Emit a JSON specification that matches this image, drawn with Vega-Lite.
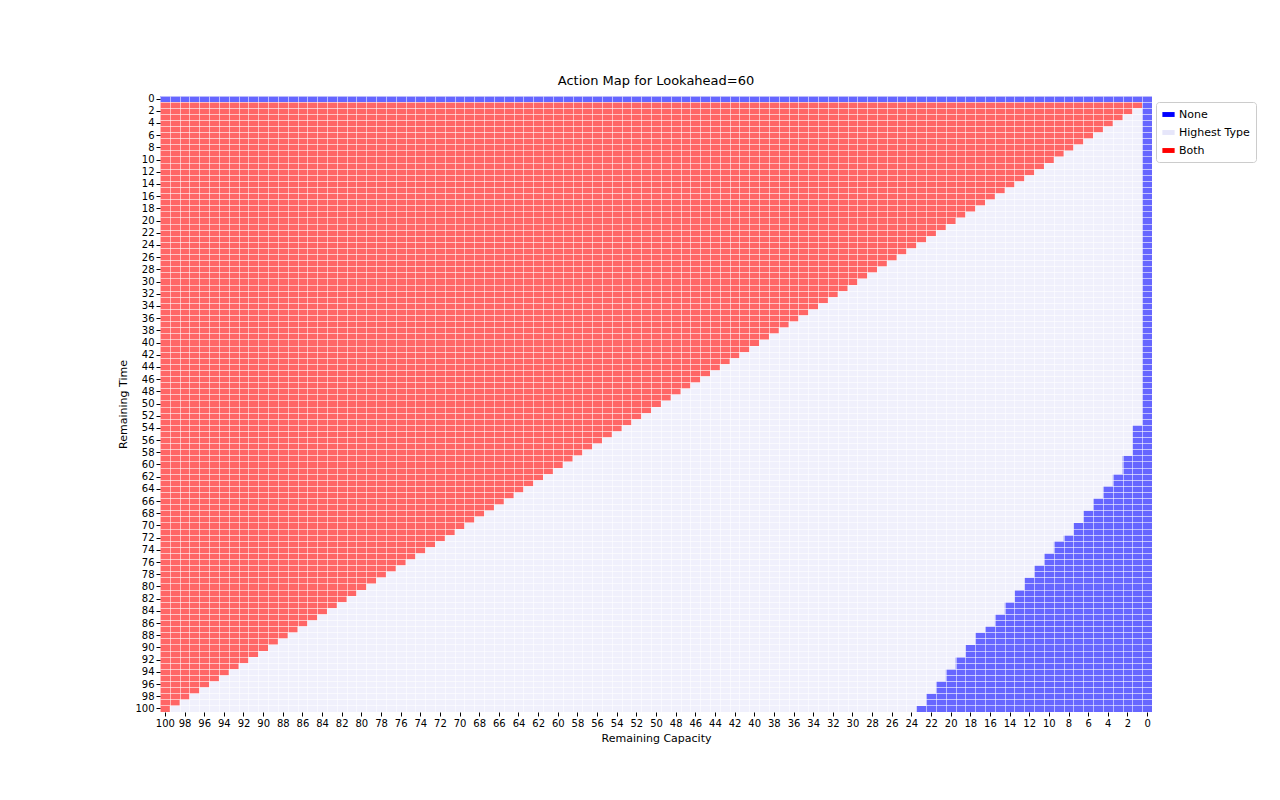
{
  "$schema": "https://vega.github.io/schema/vega-lite/v6.json",
  "width": 992,
  "height": 616,
  "autosize": "none",
  "padding": {"left": 160, "top": 96, "right": 128, "bottom": 88},
  "background": "white",
  "config": {"font": "DejaVu Sans", "view": {"stroke": null}},
  "title": {"text": "Action Map for Lookahead=60", "fontSize": 13, "fontWeight": "normal", "offset": 6, "color": "black"},
  "data": {"values": [
    {"t":0,"a":"N","lo":-0.5,"hi":100.5},
    {"t":1,"a":"N","lo":-0.5,"hi":0.5},{"t":1,"a":"B","lo":0.5,"hi":100.5},
    {"t":2,"a":"N","lo":-0.5,"hi":0.5},{"t":2,"a":"H","lo":0.5,"hi":1.5},{"t":2,"a":"B","lo":1.5,"hi":100.5},
    {"t":3,"a":"N","lo":-0.5,"hi":0.5},{"t":3,"a":"H","lo":0.5,"hi":2.5},{"t":3,"a":"B","lo":2.5,"hi":100.5},
    {"t":4,"a":"N","lo":-0.5,"hi":0.5},{"t":4,"a":"H","lo":0.5,"hi":3.5},{"t":4,"a":"B","lo":3.5,"hi":100.5},
    {"t":5,"a":"N","lo":-0.5,"hi":0.5},{"t":5,"a":"H","lo":0.5,"hi":4.5},{"t":5,"a":"B","lo":4.5,"hi":100.5},
    {"t":6,"a":"N","lo":-0.5,"hi":0.5},{"t":6,"a":"H","lo":0.5,"hi":5.5},{"t":6,"a":"B","lo":5.5,"hi":100.5},
    {"t":7,"a":"N","lo":-0.5,"hi":0.5},{"t":7,"a":"H","lo":0.5,"hi":6.5},{"t":7,"a":"B","lo":6.5,"hi":100.5},
    {"t":8,"a":"N","lo":-0.5,"hi":0.5},{"t":8,"a":"H","lo":0.5,"hi":7.5},{"t":8,"a":"B","lo":7.5,"hi":100.5},
    {"t":9,"a":"N","lo":-0.5,"hi":0.5},{"t":9,"a":"H","lo":0.5,"hi":8.5},{"t":9,"a":"B","lo":8.5,"hi":100.5},
    {"t":10,"a":"N","lo":-0.5,"hi":0.5},{"t":10,"a":"H","lo":0.5,"hi":9.5},{"t":10,"a":"B","lo":9.5,"hi":100.5},
    {"t":11,"a":"N","lo":-0.5,"hi":0.5},{"t":11,"a":"H","lo":0.5,"hi":10.5},{"t":11,"a":"B","lo":10.5,"hi":100.5},
    {"t":12,"a":"N","lo":-0.5,"hi":0.5},{"t":12,"a":"H","lo":0.5,"hi":11.5},{"t":12,"a":"B","lo":11.5,"hi":100.5},
    {"t":13,"a":"N","lo":-0.5,"hi":0.5},{"t":13,"a":"H","lo":0.5,"hi":12.5},{"t":13,"a":"B","lo":12.5,"hi":100.5},
    {"t":14,"a":"N","lo":-0.5,"hi":0.5},{"t":14,"a":"H","lo":0.5,"hi":13.5},{"t":14,"a":"B","lo":13.5,"hi":100.5},
    {"t":15,"a":"N","lo":-0.5,"hi":0.5},{"t":15,"a":"H","lo":0.5,"hi":14.5},{"t":15,"a":"B","lo":14.5,"hi":100.5},
    {"t":16,"a":"N","lo":-0.5,"hi":0.5},{"t":16,"a":"H","lo":0.5,"hi":15.5},{"t":16,"a":"B","lo":15.5,"hi":100.5},
    {"t":17,"a":"N","lo":-0.5,"hi":0.5},{"t":17,"a":"H","lo":0.5,"hi":16.5},{"t":17,"a":"B","lo":16.5,"hi":100.5},
    {"t":18,"a":"N","lo":-0.5,"hi":0.5},{"t":18,"a":"H","lo":0.5,"hi":17.5},{"t":18,"a":"B","lo":17.5,"hi":100.5},
    {"t":19,"a":"N","lo":-0.5,"hi":0.5},{"t":19,"a":"H","lo":0.5,"hi":18.5},{"t":19,"a":"B","lo":18.5,"hi":100.5},
    {"t":20,"a":"N","lo":-0.5,"hi":0.5},{"t":20,"a":"H","lo":0.5,"hi":19.5},{"t":20,"a":"B","lo":19.5,"hi":100.5},
    {"t":21,"a":"N","lo":-0.5,"hi":0.5},{"t":21,"a":"H","lo":0.5,"hi":20.5},{"t":21,"a":"B","lo":20.5,"hi":100.5},
    {"t":22,"a":"N","lo":-0.5,"hi":0.5},{"t":22,"a":"H","lo":0.5,"hi":21.5},{"t":22,"a":"B","lo":21.5,"hi":100.5},
    {"t":23,"a":"N","lo":-0.5,"hi":0.5},{"t":23,"a":"H","lo":0.5,"hi":22.5},{"t":23,"a":"B","lo":22.5,"hi":100.5},
    {"t":24,"a":"N","lo":-0.5,"hi":0.5},{"t":24,"a":"H","lo":0.5,"hi":23.5},{"t":24,"a":"B","lo":23.5,"hi":100.5},
    {"t":25,"a":"N","lo":-0.5,"hi":0.5},{"t":25,"a":"H","lo":0.5,"hi":24.5},{"t":25,"a":"B","lo":24.5,"hi":100.5},
    {"t":26,"a":"N","lo":-0.5,"hi":0.5},{"t":26,"a":"H","lo":0.5,"hi":25.5},{"t":26,"a":"B","lo":25.5,"hi":100.5},
    {"t":27,"a":"N","lo":-0.5,"hi":0.5},{"t":27,"a":"H","lo":0.5,"hi":26.5},{"t":27,"a":"B","lo":26.5,"hi":100.5},
    {"t":28,"a":"N","lo":-0.5,"hi":0.5},{"t":28,"a":"H","lo":0.5,"hi":27.5},{"t":28,"a":"B","lo":27.5,"hi":100.5},
    {"t":29,"a":"N","lo":-0.5,"hi":0.5},{"t":29,"a":"H","lo":0.5,"hi":28.5},{"t":29,"a":"B","lo":28.5,"hi":100.5},
    {"t":30,"a":"N","lo":-0.5,"hi":0.5},{"t":30,"a":"H","lo":0.5,"hi":29.5},{"t":30,"a":"B","lo":29.5,"hi":100.5},
    {"t":31,"a":"N","lo":-0.5,"hi":0.5},{"t":31,"a":"H","lo":0.5,"hi":30.5},{"t":31,"a":"B","lo":30.5,"hi":100.5},
    {"t":32,"a":"N","lo":-0.5,"hi":0.5},{"t":32,"a":"H","lo":0.5,"hi":31.5},{"t":32,"a":"B","lo":31.5,"hi":100.5},
    {"t":33,"a":"N","lo":-0.5,"hi":0.5},{"t":33,"a":"H","lo":0.5,"hi":32.5},{"t":33,"a":"B","lo":32.5,"hi":100.5},
    {"t":34,"a":"N","lo":-0.5,"hi":0.5},{"t":34,"a":"H","lo":0.5,"hi":33.5},{"t":34,"a":"B","lo":33.5,"hi":100.5},
    {"t":35,"a":"N","lo":-0.5,"hi":0.5},{"t":35,"a":"H","lo":0.5,"hi":34.5},{"t":35,"a":"B","lo":34.5,"hi":100.5},
    {"t":36,"a":"N","lo":-0.5,"hi":0.5},{"t":36,"a":"H","lo":0.5,"hi":35.5},{"t":36,"a":"B","lo":35.5,"hi":100.5},
    {"t":37,"a":"N","lo":-0.5,"hi":0.5},{"t":37,"a":"H","lo":0.5,"hi":36.5},{"t":37,"a":"B","lo":36.5,"hi":100.5},
    {"t":38,"a":"N","lo":-0.5,"hi":0.5},{"t":38,"a":"H","lo":0.5,"hi":37.5},{"t":38,"a":"B","lo":37.5,"hi":100.5},
    {"t":39,"a":"N","lo":-0.5,"hi":0.5},{"t":39,"a":"H","lo":0.5,"hi":38.5},{"t":39,"a":"B","lo":38.5,"hi":100.5},
    {"t":40,"a":"N","lo":-0.5,"hi":0.5},{"t":40,"a":"H","lo":0.5,"hi":39.5},{"t":40,"a":"B","lo":39.5,"hi":100.5},
    {"t":41,"a":"N","lo":-0.5,"hi":0.5},{"t":41,"a":"H","lo":0.5,"hi":40.5},{"t":41,"a":"B","lo":40.5,"hi":100.5},
    {"t":42,"a":"N","lo":-0.5,"hi":0.5},{"t":42,"a":"H","lo":0.5,"hi":41.5},{"t":42,"a":"B","lo":41.5,"hi":100.5},
    {"t":43,"a":"N","lo":-0.5,"hi":0.5},{"t":43,"a":"H","lo":0.5,"hi":42.5},{"t":43,"a":"B","lo":42.5,"hi":100.5},
    {"t":44,"a":"N","lo":-0.5,"hi":0.5},{"t":44,"a":"H","lo":0.5,"hi":43.5},{"t":44,"a":"B","lo":43.5,"hi":100.5},
    {"t":45,"a":"N","lo":-0.5,"hi":0.5},{"t":45,"a":"H","lo":0.5,"hi":44.5},{"t":45,"a":"B","lo":44.5,"hi":100.5},
    {"t":46,"a":"N","lo":-0.5,"hi":0.5},{"t":46,"a":"H","lo":0.5,"hi":45.5},{"t":46,"a":"B","lo":45.5,"hi":100.5},
    {"t":47,"a":"N","lo":-0.5,"hi":0.5},{"t":47,"a":"H","lo":0.5,"hi":46.5},{"t":47,"a":"B","lo":46.5,"hi":100.5},
    {"t":48,"a":"N","lo":-0.5,"hi":0.5},{"t":48,"a":"H","lo":0.5,"hi":47.5},{"t":48,"a":"B","lo":47.5,"hi":100.5},
    {"t":49,"a":"N","lo":-0.5,"hi":0.5},{"t":49,"a":"H","lo":0.5,"hi":48.5},{"t":49,"a":"B","lo":48.5,"hi":100.5},
    {"t":50,"a":"N","lo":-0.5,"hi":0.5},{"t":50,"a":"H","lo":0.5,"hi":49.5},{"t":50,"a":"B","lo":49.5,"hi":100.5},
    {"t":51,"a":"N","lo":-0.5,"hi":0.5},{"t":51,"a":"H","lo":0.5,"hi":50.5},{"t":51,"a":"B","lo":50.5,"hi":100.5},
    {"t":52,"a":"N","lo":-0.5,"hi":0.5},{"t":52,"a":"H","lo":0.5,"hi":51.5},{"t":52,"a":"B","lo":51.5,"hi":100.5},
    {"t":53,"a":"N","lo":-0.5,"hi":0.5},{"t":53,"a":"H","lo":0.5,"hi":52.5},{"t":53,"a":"B","lo":52.5,"hi":100.5},
    {"t":54,"a":"N","lo":-0.5,"hi":1.5},{"t":54,"a":"H","lo":1.5,"hi":53.5},{"t":54,"a":"B","lo":53.5,"hi":100.5},
    {"t":55,"a":"N","lo":-0.5,"hi":1.5},{"t":55,"a":"H","lo":1.5,"hi":54.5},{"t":55,"a":"B","lo":54.5,"hi":100.5},
    {"t":56,"a":"N","lo":-0.5,"hi":1.5},{"t":56,"a":"H","lo":1.5,"hi":55.5},{"t":56,"a":"B","lo":55.5,"hi":100.5},
    {"t":57,"a":"N","lo":-0.5,"hi":1.5},{"t":57,"a":"H","lo":1.5,"hi":56.5},{"t":57,"a":"B","lo":56.5,"hi":100.5},
    {"t":58,"a":"N","lo":-0.5,"hi":1.5},{"t":58,"a":"H","lo":1.5,"hi":57.5},{"t":58,"a":"B","lo":57.5,"hi":100.5},
    {"t":59,"a":"N","lo":-0.5,"hi":2.5},{"t":59,"a":"H","lo":2.5,"hi":58.5},{"t":59,"a":"B","lo":58.5,"hi":100.5},
    {"t":60,"a":"N","lo":-0.5,"hi":2.5},{"t":60,"a":"H","lo":2.5,"hi":59.5},{"t":60,"a":"B","lo":59.5,"hi":100.5},
    {"t":61,"a":"N","lo":-0.5,"hi":2.5},{"t":61,"a":"H","lo":2.5,"hi":60.5},{"t":61,"a":"B","lo":60.5,"hi":100.5},
    {"t":62,"a":"N","lo":-0.5,"hi":3.5},{"t":62,"a":"H","lo":3.5,"hi":61.5},{"t":62,"a":"B","lo":61.5,"hi":100.5},
    {"t":63,"a":"N","lo":-0.5,"hi":3.5},{"t":63,"a":"H","lo":3.5,"hi":62.5},{"t":63,"a":"B","lo":62.5,"hi":100.5},
    {"t":64,"a":"N","lo":-0.5,"hi":4.5},{"t":64,"a":"H","lo":4.5,"hi":63.5},{"t":64,"a":"B","lo":63.5,"hi":100.5},
    {"t":65,"a":"N","lo":-0.5,"hi":4.5},{"t":65,"a":"H","lo":4.5,"hi":64.5},{"t":65,"a":"B","lo":64.5,"hi":100.5},
    {"t":66,"a":"N","lo":-0.5,"hi":5.5},{"t":66,"a":"H","lo":5.5,"hi":65.5},{"t":66,"a":"B","lo":65.5,"hi":100.5},
    {"t":67,"a":"N","lo":-0.5,"hi":5.5},{"t":67,"a":"H","lo":5.5,"hi":66.5},{"t":67,"a":"B","lo":66.5,"hi":100.5},
    {"t":68,"a":"N","lo":-0.5,"hi":6.5},{"t":68,"a":"H","lo":6.5,"hi":67.5},{"t":68,"a":"B","lo":67.5,"hi":100.5},
    {"t":69,"a":"N","lo":-0.5,"hi":6.5},{"t":69,"a":"H","lo":6.5,"hi":68.5},{"t":69,"a":"B","lo":68.5,"hi":100.5},
    {"t":70,"a":"N","lo":-0.5,"hi":7.5},{"t":70,"a":"H","lo":7.5,"hi":69.5},{"t":70,"a":"B","lo":69.5,"hi":100.5},
    {"t":71,"a":"N","lo":-0.5,"hi":7.5},{"t":71,"a":"H","lo":7.5,"hi":70.5},{"t":71,"a":"B","lo":70.5,"hi":100.5},
    {"t":72,"a":"N","lo":-0.5,"hi":8.5},{"t":72,"a":"H","lo":8.5,"hi":71.5},{"t":72,"a":"B","lo":71.5,"hi":100.5},
    {"t":73,"a":"N","lo":-0.5,"hi":9.5},{"t":73,"a":"H","lo":9.5,"hi":72.5},{"t":73,"a":"B","lo":72.5,"hi":100.5},
    {"t":74,"a":"N","lo":-0.5,"hi":9.5},{"t":74,"a":"H","lo":9.5,"hi":73.5},{"t":74,"a":"B","lo":73.5,"hi":100.5},
    {"t":75,"a":"N","lo":-0.5,"hi":10.5},{"t":75,"a":"H","lo":10.5,"hi":74.5},{"t":75,"a":"B","lo":74.5,"hi":100.5},
    {"t":76,"a":"N","lo":-0.5,"hi":10.5},{"t":76,"a":"H","lo":10.5,"hi":75.5},{"t":76,"a":"B","lo":75.5,"hi":100.5},
    {"t":77,"a":"N","lo":-0.5,"hi":11.5},{"t":77,"a":"H","lo":11.5,"hi":76.5},{"t":77,"a":"B","lo":76.5,"hi":100.5},
    {"t":78,"a":"N","lo":-0.5,"hi":11.5},{"t":78,"a":"H","lo":11.5,"hi":77.5},{"t":78,"a":"B","lo":77.5,"hi":100.5},
    {"t":79,"a":"N","lo":-0.5,"hi":12.5},{"t":79,"a":"H","lo":12.5,"hi":78.5},{"t":79,"a":"B","lo":78.5,"hi":100.5},
    {"t":80,"a":"N","lo":-0.5,"hi":12.5},{"t":80,"a":"H","lo":12.5,"hi":79.5},{"t":80,"a":"B","lo":79.5,"hi":100.5},
    {"t":81,"a":"N","lo":-0.5,"hi":13.5},{"t":81,"a":"H","lo":13.5,"hi":80.5},{"t":81,"a":"B","lo":80.5,"hi":100.5},
    {"t":82,"a":"N","lo":-0.5,"hi":13.5},{"t":82,"a":"H","lo":13.5,"hi":81.5},{"t":82,"a":"B","lo":81.5,"hi":100.5},
    {"t":83,"a":"N","lo":-0.5,"hi":14.5},{"t":83,"a":"H","lo":14.5,"hi":82.5},{"t":83,"a":"B","lo":82.5,"hi":100.5},
    {"t":84,"a":"N","lo":-0.5,"hi":14.5},{"t":84,"a":"H","lo":14.5,"hi":83.5},{"t":84,"a":"B","lo":83.5,"hi":100.5},
    {"t":85,"a":"N","lo":-0.5,"hi":15.5},{"t":85,"a":"H","lo":15.5,"hi":84.5},{"t":85,"a":"B","lo":84.5,"hi":100.5},
    {"t":86,"a":"N","lo":-0.5,"hi":15.5},{"t":86,"a":"H","lo":15.5,"hi":85.5},{"t":86,"a":"B","lo":85.5,"hi":100.5},
    {"t":87,"a":"N","lo":-0.5,"hi":16.5},{"t":87,"a":"H","lo":16.5,"hi":86.5},{"t":87,"a":"B","lo":86.5,"hi":100.5},
    {"t":88,"a":"N","lo":-0.5,"hi":17.5},{"t":88,"a":"H","lo":17.5,"hi":87.5},{"t":88,"a":"B","lo":87.5,"hi":100.5},
    {"t":89,"a":"N","lo":-0.5,"hi":17.5},{"t":89,"a":"H","lo":17.5,"hi":88.5},{"t":89,"a":"B","lo":88.5,"hi":100.5},
    {"t":90,"a":"N","lo":-0.5,"hi":18.5},{"t":90,"a":"H","lo":18.5,"hi":89.5},{"t":90,"a":"B","lo":89.5,"hi":100.5},
    {"t":91,"a":"N","lo":-0.5,"hi":18.5},{"t":91,"a":"H","lo":18.5,"hi":90.5},{"t":91,"a":"B","lo":90.5,"hi":100.5},
    {"t":92,"a":"N","lo":-0.5,"hi":19.5},{"t":92,"a":"H","lo":19.5,"hi":91.5},{"t":92,"a":"B","lo":91.5,"hi":100.5},
    {"t":93,"a":"N","lo":-0.5,"hi":19.5},{"t":93,"a":"H","lo":19.5,"hi":92.5},{"t":93,"a":"B","lo":92.5,"hi":100.5},
    {"t":94,"a":"N","lo":-0.5,"hi":20.5},{"t":94,"a":"H","lo":20.5,"hi":93.5},{"t":94,"a":"B","lo":93.5,"hi":100.5},
    {"t":95,"a":"N","lo":-0.5,"hi":20.5},{"t":95,"a":"H","lo":20.5,"hi":94.5},{"t":95,"a":"B","lo":94.5,"hi":100.5},
    {"t":96,"a":"N","lo":-0.5,"hi":21.5},{"t":96,"a":"H","lo":21.5,"hi":95.5},{"t":96,"a":"B","lo":95.5,"hi":100.5},
    {"t":97,"a":"N","lo":-0.5,"hi":21.5},{"t":97,"a":"H","lo":21.5,"hi":96.5},{"t":97,"a":"B","lo":96.5,"hi":100.5},
    {"t":98,"a":"N","lo":-0.5,"hi":22.5},{"t":98,"a":"H","lo":22.5,"hi":97.5},{"t":98,"a":"B","lo":97.5,"hi":100.5},
    {"t":99,"a":"N","lo":-0.5,"hi":22.5},{"t":99,"a":"H","lo":22.5,"hi":98.5},{"t":99,"a":"B","lo":98.5,"hi":100.5},
    {"t":100,"a":"N","lo":-0.5,"hi":23.5},{"t":100,"a":"H","lo":23.5,"hi":99.5},{"t":100,"a":"B","lo":99.5,"hi":100.5}
  ]},
  "layer": [
    {
      "mark": {"type": "rect", "opacity": 0.6},
      "encoding": {
        "x": {"field": "lo", "type": "quantitative",
          "scale": {"domain": [-0.5, 100.5], "reverse": true, "nice": false, "zero": false},
          "axis": {"title": "Remaining Capacity", "titleFontSize": 11, "titleFontWeight": "normal", "titleColor": "black", "titlePadding": 4,
            "values": [0,2,4,6,8,10,12,14,16,18,20,22,24,26,28,30,32,34,36,38,40,42,44,46,48,50,52,54,56,58,60,62,64,66,68,70,72,74,76,78,80,82,84,86,88,90,92,94,96,98,100],
            "grid": false, "domain": false, "tickColor": "black", "tickSize": 4, "labelFontSize": 10, "labelColor": "black", "labelPadding": 2}},
        "x2": {"field": "hi"},
        "y": {"field": "t", "type": "ordinal", "sort": "ascending",
          "scale": {"paddingInner": 0, "paddingOuter": 0},
          "axis": {"title": "Remaining Time", "titleFontSize": 11, "titleFontWeight": "normal", "titleColor": "black", "titlePadding": 6,
            "values": [0,2,4,6,8,10,12,14,16,18,20,22,24,26,28,30,32,34,36,38,40,42,44,46,48,50,52,54,56,58,60,62,64,66,68,70,72,74,76,78,80,82,84,86,88,90,92,94,96,98,100],
            "grid": false, "domain": false, "tickColor": "black", "tickSize": 4, "labelFontSize": 10, "labelColor": "black", "labelPadding": 2, "labelAngle": 0}},
        "color": {"field": "a", "type": "nominal",
          "scale": {"domain": ["N", "H", "B"], "range": ["#0000ff", "#e6e6fa", "#ff0000"]},
          "legend": {"title": null, "orient": "none", "legendX": 996, "legendY": 6,
            "labelExpr": "datum.value == 'N' ? 'None' : datum.value == 'H' ? 'Highest Type' : 'Both'",
            "symbolType": "M-1,-0.4H1V0.4H-1Z", "symbolSize": 150, "symbolOpacity": 1, "symbolStrokeWidth": 0,
            "labelFontSize": 11, "labelColor": "black", "rowPadding": 6, "padding": 6,
            "fillColor": "white", "strokeColor": "#cccccc", "cornerRadius": 3}}
      }
    },
    {
      "mark": {"type": "rect", "opacity": 0},
      "encoding": {
        "x": {"field": "lo", "type": "quantitative",
          "axis": {"orient": "bottom", "title": null, "labels": false, "ticks": false, "domain": false, "grid": true, "zindex": 1,
            "gridColor": "white", "gridOpacity": 0.55, "gridWidth": 1,
            "values": [-0.5,0.5,1.5,2.5,3.5,4.5,5.5,6.5,7.5,8.5,9.5,10.5,11.5,12.5,13.5,14.5,15.5,16.5,17.5,18.5,19.5,20.5,21.5,22.5,23.5,24.5,25.5,26.5,27.5,28.5,29.5,30.5,31.5,32.5,33.5,34.5,35.5,36.5,37.5,38.5,39.5,40.5,41.5,42.5,43.5,44.5,45.5,46.5,47.5,48.5,49.5,50.5,51.5,52.5,53.5,54.5,55.5,56.5,57.5,58.5,59.5,60.5,61.5,62.5,63.5,64.5,65.5,66.5,67.5,68.5,69.5,70.5,71.5,72.5,73.5,74.5,75.5,76.5,77.5,78.5,79.5,80.5,81.5,82.5,83.5,84.5,85.5,86.5,87.5,88.5,89.5,90.5,91.5,92.5,93.5,94.5,95.5,96.5,97.5,98.5,99.5,100.5]}},
        "x2": {"field": "hi"},
        "y": {"field": "t", "type": "ordinal", "sort": "ascending",
          "axis": {"orient": "left", "title": null, "labels": false, "ticks": false, "domain": false, "grid": true, "zindex": 1, "bandPosition": 0,
            "gridColor": "white", "gridOpacity": 0.55, "gridWidth": 1}}
      }
    }
  ],
  "resolve": {"axis": {"x": "independent", "y": "independent"}}
}
